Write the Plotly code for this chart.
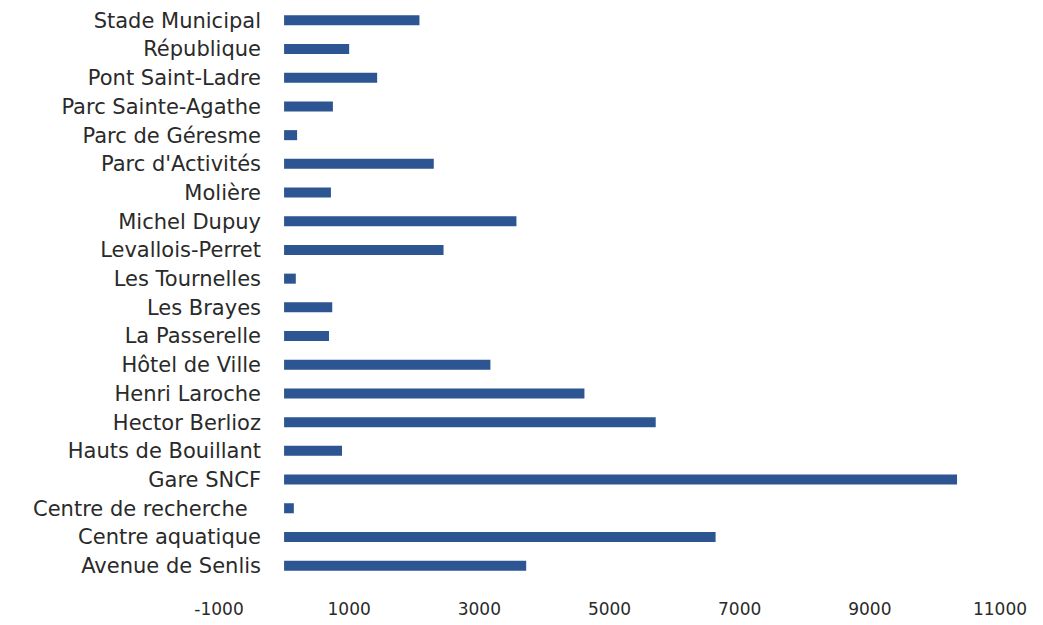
import plotly.graph_objects as go

categories = [
    "Avenue de Senlis", "Centre aquatique", "Centre de recherche\u00a0\u00a0", "Gare SNCF",
    "Hauts de Bouillant", "Hector Berlioz", "Henri Laroche", "Hôtel de Ville",
    "La Passerelle", "Les Brayes", "Les Tournelles", "Levallois-Perret",
    "Michel Dupuy", "Molière", "Parc d'Activités", "Parc de Géresme",
    "Parc Sainte-Agathe", "Pont Saint-Ladre", "République", "Stade Municipal",
]
values = [3720, 6630, 150, 10340, 890, 5710, 4615, 3170, 690, 740, 180, 2450,
          3570, 720, 2300, 200, 750, 1430, 1000, 2080]
x_ticks = [-1000, 1000, 3000, 5000, 7000, 9000, 11000]

W, H = 1043, 625
ml, mr, mt, mb = 10, 40, 6, 45
pw = W - ml - mr

fig = go.Figure(go.Bar(
    x=values, y=categories, orientation="h",
    marker=dict(color="#2D5592", line=dict(width=0)),
))

fig.update_layout(
    width=W, height=H,
    margin=dict(l=ml, r=mr, t=mt, b=mb, autoexpand=False),
    plot_bgcolor="white", paper_bgcolor="white",
    bargap=0.65,
    showlegend=False,
    font=dict(family="DejaVu Sans, sans-serif", size=21, color="#2a2a2a"),
    xaxis=dict(
        range=[-1000, 11000],
        domain=[(219 - ml) / pw, (1000 - ml) / pw],
        tickvals=x_ticks, ticktext=[str(v) for v in x_ticks],
        showgrid=False, zeroline=False, showline=False,
        ticks="outside", ticklen=14, tickcolor="rgba(0,0,0,0)",
        tickfont=dict(size=17), automargin=False,
    ),
    yaxis=dict(
        anchor="free", position=(261 - ml) / pw,
        showgrid=False, zeroline=False, showline=False,
        ticks="", automargin=False,
    ),
)

fig.write_html("out.html", config={"displayModeBar": False},
               post_script="document.body.style.margin='0';")
